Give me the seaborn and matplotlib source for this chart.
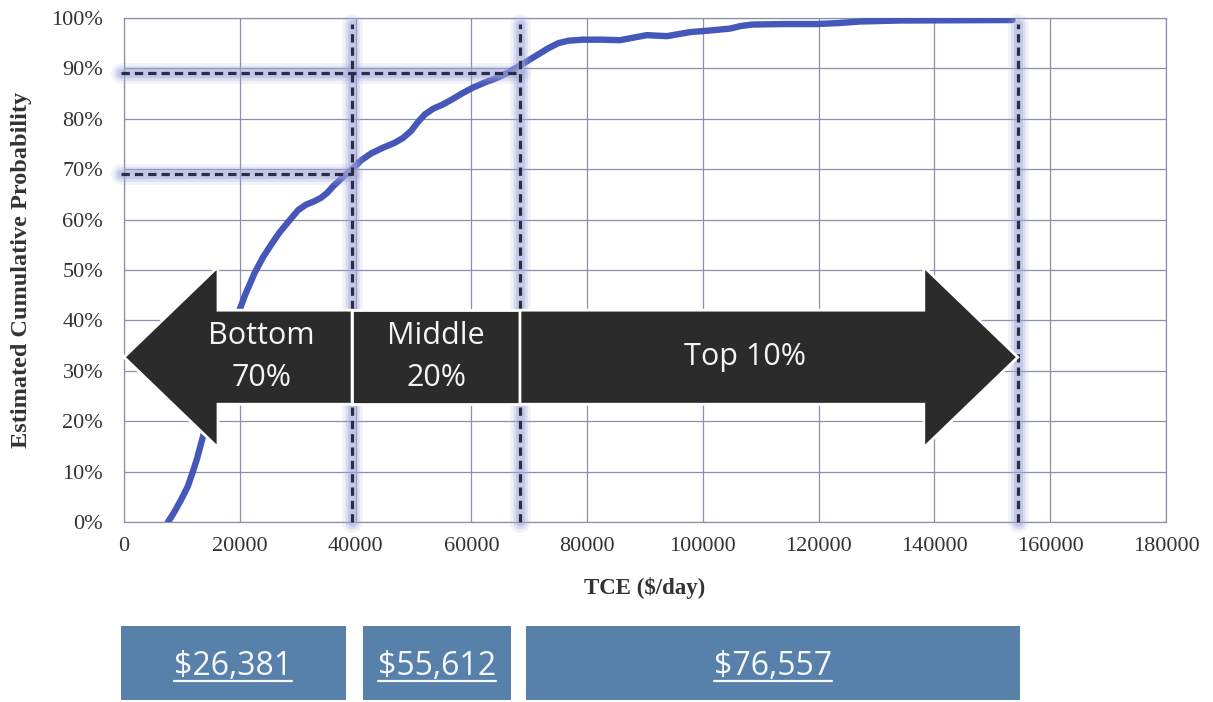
import matplotlib
matplotlib.use("Agg")
import matplotlib.pyplot as plt
import seaborn as sns
from matplotlib.patches import Polygon, Rectangle
from matplotlib.lines import Line2D
from matplotlib.ticker import FuncFormatter
from matplotlib.transforms import blended_transform_factory

# Estimated cumulative distribution of TCE earnings
tce = [7600, 8700, 9900, 11000, 11900, 12600, 13300, 14000, 14700, 15500,
       16600, 17900, 19300, 20900, 22600, 24000, 25400, 26900, 28700, 30100,
       31500, 32800, 34000, 35100, 36200, 37700, 39400, 41000, 42800, 44800,
       46700, 48200, 49600, 50800, 52000, 53400, 55000, 56600, 58500, 60300,
       62300, 64400, 66200, 67900, 69600, 71300, 73300, 75000, 76800, 79300,
       82500, 85700, 88000, 90300, 92000, 93800, 95800, 97800, 101000, 104700,
       106500, 108500, 114000, 119700, 123500, 127100, 134000, 153500]
cum_prob = [0.000, 0.020, 0.045, 0.070, 0.100, 0.125, 0.155, 0.185, 0.215, 0.250,
            0.300, 0.350, 0.400, 0.450, 0.495, 0.525, 0.550, 0.575, 0.600, 0.619,
            0.630, 0.636, 0.643, 0.653, 0.667, 0.683, 0.700, 0.718, 0.732, 0.743,
            0.752, 0.762, 0.776, 0.794, 0.809, 0.820, 0.828, 0.838, 0.851, 0.862,
            0.872, 0.881, 0.891, 0.902, 0.914, 0.926, 0.940, 0.950, 0.955, 0.957,
            0.957, 0.956, 0.961, 0.966, 0.965, 0.964, 0.968, 0.972, 0.975, 0.979,
            0.984, 0.987, 0.988, 0.988, 0.990, 0.993, 0.995, 0.996]

# Segment cut-offs (TCE) and the matching cumulative probabilities
cutoff_tce = [39400, 68400, 154400]
cutoff_prob = [0.69, 0.89]
segment_names = ["Bottom\n70%", "Middle\n20%", "Top 10%"]
segment_avg = ["$26,381", "$55,612", "$76,557"]

x_ticks = [0, 20000, 40000, 60000, 80000, 100000, 120000, 140000, 160000, 180000]
y_ticks = [0.0, 0.1, 0.2, 0.3, 0.4, 0.5, 0.6, 0.7, 0.8, 0.9, 1.0]

sns.set_style("white")
plt.rcParams["lines.scale_dashes"] = False

W, H = 1213, 702
fig = plt.figure(figsize=(W / 100, H / 100), dpi=100)
ax = fig.add_axes([124 / W, 180 / H, 1042 / W, 504 / H])

grid_col = "#8C90A8"
ax.set_xlim(0, 180000)
ax.set_ylim(0, 1)
ax.set_xticks(x_ticks)
ax.set_yticks(y_ticks)
ax.grid(True, color=grid_col, lw=0.9)
ax.set_axisbelow(True)
for sp in ax.spines.values():
    sp.set_visible(True)
    sp.set_color(grid_col)
    sp.set_linewidth(0.9)

serif = "Liberation Serif"
text_col = "#333333"
ax.yaxis.set_major_formatter(FuncFormatter(lambda v, _: f"{v * 100:.0f}%"))
ax.xaxis.set_major_formatter(FuncFormatter(lambda v, _: f"{v:.0f}"))
ax.tick_params(axis="y", length=0, pad=15)
ax.tick_params(axis="x", length=0, pad=11)
for lab in ax.get_xticklabels() + ax.get_yticklabels():
    lab.set_fontfamily(serif)
    lab.set_fontsize(16)
    lab.set_color(text_col)

ax.set_xlabel("TCE ($/day)", fontfamily=serif, fontweight="bold",
              fontsize=16.5, color=text_col)
ax.set_ylabel("Estimated Cumulative Probability", fontfamily=serif,
              fontweight="bold", fontsize=17.5, color=text_col)
ax.xaxis.label.set_va("center")
ax.yaxis.label.set_va("center")
ax.xaxis.set_label_coords(0.5, (522 - 588) / 504)
ax.yaxis.set_label_coords((22 - 124) / 1042, 0.5)

# CDF curve
sns.lineplot(x=tce, y=cum_prob, ax=ax, color="#4558B9", lw=4.6, sort=False,
             zorder=3, solid_joinstyle="round")


def guide(xs, ys):
    """Dashed reference line with a soft lavender glow."""
    for lw, a in [(15, 0.14), (10.5, 0.26), (6.5, 0.40)]:
        ax.plot(xs, ys, color="#A3A6DB", lw=lw, alpha=a,
                solid_capstyle="round", zorder=4, clip_on=False)
    ax.plot(xs, ys, color="#2A2D44", lw=2.3, ls=(0, (6, 3.6)), zorder=5,
            clip_on=False)


for c, p in zip(cutoff_tce, cutoff_prob):
    guide([-600, c], [p, p])
for c in cutoff_tce:
    guide([c, c], [0, 0.988])

# Segment arrows
mid, body_h, head_h, head_len = 0.327, 0.0933, 0.1796, 16240
arrow_kw = dict(fc="#2B2B2B", ec="white", lw=2, zorder=6, clip_on=False,
                joinstyle="miter")
c0, c1, c2 = cutoff_tce
left_arrow = [(c0, mid + body_h), (head_len, mid + body_h),
              (head_len, mid + head_h), (0, mid), (head_len, mid - head_h),
              (head_len, mid - body_h), (c0, mid - body_h)]
middle_box = [(c0, mid + body_h), (c1, mid + body_h),
              (c1, mid - body_h), (c0, mid - body_h)]
right_arrow = [(c1, mid + body_h), (c2 - head_len, mid + body_h),
               (c2 - head_len, mid + head_h), (c2, mid),
               (c2 - head_len, mid - head_h), (c2 - head_len, mid - body_h),
               (c1, mid - body_h)]
for pts in (left_arrow, middle_box, right_arrow):
    ax.add_patch(Polygon(pts, closed=True, **arrow_kw))

text_x = [(head_len / 2 + c0) / 2, (c0 + c1) / 2, (c1 + c2 - head_len / 2) / 2]
for x, name in zip(text_x, segment_names):
    ax.text(x, mid, name, color="#F4F4F4", ha="center", va="center",
            fontsize=22, fontfamily="Open Sans", linespacing=1.5, zorder=7)

# Average TCE boxes below the chart
trans = blended_transform_factory(ax.transData, fig.transFigure)
box_left = [-600, c0 + 1900, c1 + 1100]
box_right = [c0 - 1000, c1 - 1600, c2 + 400]
labels = []
for lo, hi, val in zip(box_left, box_right, segment_avg):
    ax.add_patch(Rectangle((lo, 2 / H), hi - lo, 74 / H, transform=trans,
                           fc="#5780AA", ec="none", clip_on=False))
    t = ax.text((lo + hi) / 2, (H - 675) / H, val, transform=trans,
                ha="center", va="baseline", color="#F6F8FA", fontsize=23,
                fontfamily="Open Sans", clip_on=False)
    labels.append(t)

fig.canvas.draw()
renderer = fig.canvas.get_renderer()
for t in labels:
    bb = t.get_window_extent(renderer)
    yl = (H - 680.5) / H
    fig.add_artist(Line2D([bb.x0 / W, bb.x1 / W], [yl, yl],
                          transform=fig.transFigure, color="#F6F8FA", lw=1.6))

fig.savefig("out.png", dpi=100)
